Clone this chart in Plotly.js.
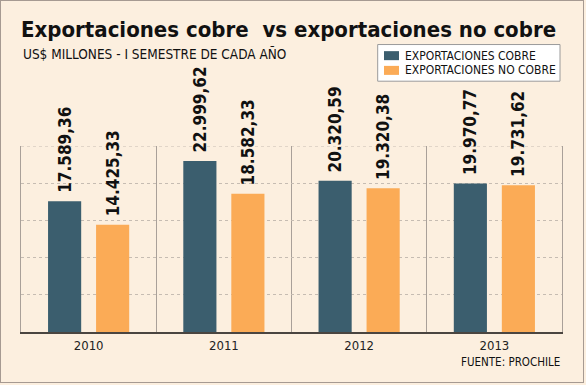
<!DOCTYPE html>
<html><head><meta charset="utf-8">
<script src="https://cdn.plot.ly/plotly-3.0.1.min.js"></script>
<style>
html,body{margin:0;padding:0;background:#FCEFDF;}
#wrap{position:relative;width:586px;height:385px;}
#frame{position:absolute;left:0;top:0;width:582px;height:381px;border:1px solid #A69A92;pointer-events:none;}
</style>
</head><body>
<div id="wrap"><div id="chart" style="width:586px;height:385px;"></div><div id="frame"></div></div>
<script>
const years = ['2010', '2011', '2012', '2013'];
const cobre = [17589.36, 22999.62, 20320.59, 19970.77];
const noCobre = [14425.33, 18582.33, 19320.38, 19731.62];
const seriesNames = ['EXPORTACIONES COBRE', 'EXPORTACIONES NO COBRE'];
const seriesColors = ['#3B5E6E', '#FBAB56'];
const yMax = 25000;
const titleText = 'Exportaciones cobre  vs exportaciones no cobre';
const subtitleText = 'US$ MILLONES - I SEMESTRE DE CADA AÑO';
const sourceText = 'FUENTE: PROCHILE';

const F = 'DejaVu Sans Condensed, DejaVu Sans, sans-serif';
const labelFont = {family: F, size: 17, color: '#111', weight: 'bold'};
const gridColor = '#C6BCB2';

function barTrace(y, name, color) {
  return {
    type: 'bar', x: years, y: y, name: name,
    marker: {color: color},
    texttemplate: '\u00a0%{y:,.2f}', textposition: 'outside', textangle: -90,
    textfont: labelFont, cliponaxis: false, constraintext: 'none',
    hoverinfo: 'skip', showlegend: false
  };
}

const data = [
  barTrace(cobre, seriesNames[0], seriesColors[0]),
  barTrace(noCobre, seriesNames[1], seriesColors[1])
];

// plot area: x 21..562, y 146..331.7 (px)
const PX = v => (v - 21) / 541;
const PY = v => (331.7 - v) / 185.7;

const shapes = [
  // top gridline (plotly drops grid lines at the very edge)
  {type: 'line', xref: 'paper', yref: 'y', x0: 0, x1: 1, y0: yMax, y1: yMax,
   line: {color: gridColor, width: 1, dash: 'dot'}, layer: 'below'},
  {type: 'rect', xref: 'paper', yref: 'paper', x0: PX(377.7), x1: PX(560), y0: PY(81.3), y1: PY(44.7),
   fillcolor: '#FFFFFF', line: {color: '#9A9A9A', width: 1}},
  {type: 'rect', xref: 'paper', yref: 'paper', x0: PX(384), x1: PX(399), y0: PY(60.3), y1: PY(51.3),
   fillcolor: seriesColors[0], line: {width: 0}},
  {type: 'rect', xref: 'paper', yref: 'paper', x0: PX(384), x1: PX(399), y0: PY(75), y1: PY(66),
   fillcolor: seriesColors[1], line: {width: 0}}
];

const layout = {
  width: 586, height: 385,
  margin: {l: 21, r: 24, t: 146, b: 53},
  paper_bgcolor: '#FCEFDF', plot_bgcolor: '#FCEFDF',
  separators: ',.',
  barmode: 'group', bargap: 0.29, bargroupgap: 0.31,
  showlegend: false,
  title: {
    text: titleText,
    font: {family: F, size: 22, color: '#111', weight: 'bold'},
    xref: 'container', yref: 'container',
    x: 21/586, xanchor: 'left', y: 1 - 29.5/385, yanchor: 'middle'
  },
  xaxis: {
    type: 'category', tickson: 'boundaries', showgrid: true,
    gridcolor: '#A9A099', gridwidth: 1,
    showline: true, linecolor: '#4A4540', linewidth: 2,
    ticks: '', tickfont: {family: F, size: 13, color: '#222'}
  },
  yaxis: {
    range: [0, yMax], dtick: 5000, showticklabels: false,
    gridcolor: gridColor, griddash: 'dot', gridwidth: 1,
    zeroline: false, showline: true, mirror: true, linecolor: '#A9A099', linewidth: 1
  },
  shapes: shapes,
  annotations: [
    {text: subtitleText, xref: 'paper', yref: 'paper', x: 0, xanchor: 'left',
     y: PY(54), yanchor: 'middle', showarrow: false,
     font: {family: F, size: 13.5, color: '#111'}},
    {text: sourceText, xref: 'paper', yref: 'paper', x: 1, xanchor: 'right',
     y: PY(361.7), yanchor: 'middle', showarrow: false,
     font: {family: F, size: 11.5, color: '#111'}},
    {text: seriesNames[0], xref: 'paper', yref: 'paper', x: PX(403), xanchor: 'left',
     y: PY(55.8), yanchor: 'middle', showarrow: false,
     font: {family: F, size: 12, color: '#111'}},
    {text: seriesNames[1], xref: 'paper', yref: 'paper', x: PX(403), xanchor: 'left',
     y: PY(70.5), yanchor: 'middle', showarrow: false,
     font: {family: F, size: 12, color: '#111'}}
  ]
};

Plotly.newPlot('chart', data, layout, {displayModeBar: false, staticPlot: true});
</script>
</body></html>
